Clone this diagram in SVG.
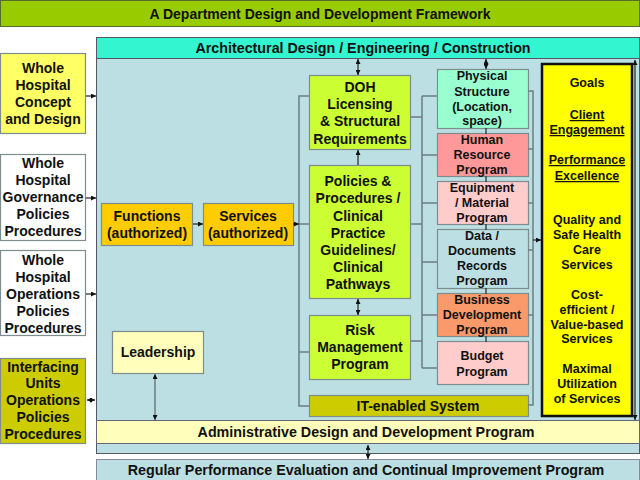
<svg xmlns="http://www.w3.org/2000/svg" width="640" height="480" viewBox="0 0 640 480">
<style>
text{font-family:"Liberation Sans",Arial,sans-serif;font-weight:bold;fill:#111;text-anchor:middle}
.t14{font-size:14px}
.t13{font-size:13px}
.t12{font-size:12.5px}
.bar{font-size:14.3px}
.box{stroke:#7f8c8d;stroke-width:1.2}
.con{fill:none;stroke:#6e7e82;stroke-width:1.5}
.dk{fill:none;stroke:#222;stroke-width:1.2}
.u{text-decoration:underline}
</style>
<defs>
<marker id="ah" viewBox="0 0 6 6" refX="6" refY="3" markerWidth="5" markerHeight="5" markerUnits="userSpaceOnUse" orient="auto-start-reverse"><path d="M0,0 L6,3 L0,6 z" fill="#111"/></marker>
</defs>

<!-- title -->
<g id="title">
<rect x="0.5" y="0.5" width="639" height="26" fill="#99cc00" stroke="#556b2f"/>
<text class="t14" x="320" y="19">A Department Design and Development Framework</text>
</g>

<!-- main panel -->
<g id="panel">
<rect x="96.5" y="37.5" width="543" height="416" fill="#bbdfe2" stroke="#556"/>
</g>
<g id="arch">
<rect x="96.5" y="37.5" width="543" height="21" fill="#33f5d0" stroke="#556"/>
<text class="bar" x="363" y="53">Architectural  Design / Engineering / Construction</text>
</g>
<g id="admin">
<rect x="96.5" y="420.5" width="543" height="23" fill="#ffffbb" stroke="#667"/>
<text class="bar" x="366" y="437">Administrative  Design and Development Program</text>
</g>
<g id="regular">
<rect x="96.5" y="459.5" width="543" height="21" fill="#bbdfe2" stroke="#889"/>
<text class="bar" x="366" y="475">Regular Performance Evaluation and Continual  Improvement Program</text>
</g>

<!-- left boxes -->
<g id="concept">
<rect x="0.5" y="53.5" width="85" height="80" fill="#ffff66" class="box"/>
<text class="t14" x="43" y="73">Whole</text>
<text class="t14" x="43" y="90">Hospital</text>
<text class="t14" x="43" y="107">Concept</text>
<text class="t14" x="43" y="124">and Design</text>
</g>
<g id="governance">
<rect x="0.5" y="154.5" width="85" height="86" fill="#ffffff" class="box"/>
<text class="t14" x="43" y="168">Whole</text>
<text class="t14" x="43" y="185">Hospital</text>
<text class="t14" x="43" y="202">Governance</text>
<text class="t14" x="43" y="219">Policies</text>
<text class="t14" x="43" y="236">Procedures</text>
</g>
<g id="operations">
<rect x="0.5" y="250.5" width="85" height="85" fill="#ffffff" class="box"/>
<text class="t14" x="43" y="265">Whole</text>
<text class="t14" x="43" y="282">Hospital</text>
<text class="t14" x="43" y="299">Operations</text>
<text class="t14" x="43" y="316">Policies</text>
<text class="t14" x="43" y="333">Procedures</text>
</g>
<g id="interfacing">
<rect x="0.5" y="358.5" width="85" height="85" fill="#cccc00" class="box"/>
<text class="t14" x="43" y="372">Interfacing</text>
<text class="t14" x="43" y="388">Units</text>
<text class="t14" x="43" y="405">Operations</text>
<text class="t14" x="43" y="422">Policies</text>
<text class="t14" x="43" y="439">Procedures</text>
</g>

<!-- middle -->
<g id="functions">
<rect x="101.5" y="203.5" width="91" height="42" fill="#ffcc00" class="box"/>
<text class="t14" x="147" y="221">Functions</text>
<text class="t14" x="147" y="238">(authorized)</text>
</g>
<g id="services">
<rect x="203.5" y="203.5" width="90" height="42" fill="#ffcc00" class="box"/>
<text class="t14" x="248" y="221">Services</text>
<text class="t14" x="248" y="238">(authorized)</text>
</g>
<g id="leadership">
<rect x="112.5" y="331.5" width="91" height="42" fill="#ffffbb" class="box"/>
<text class="t14" x="158" y="357">Leadership</text>
</g>
<g id="doh">
<rect x="309.5" y="75.5" width="101" height="74" fill="#ccff33" class="box"/>
<text class="t14" x="360" y="92">DOH</text>
<text class="t14" x="360" y="109">Licensing</text>
<text class="t14" x="360" y="126">&amp; Structural</text>
<text class="t14" x="360" y="144">Requirements</text>
</g>
<g id="policies">
<rect x="309.5" y="165.5" width="101" height="133" fill="#ccff33" class="box"/>
<text class="t14" x="358" y="186">Policies  &amp;</text>
<text class="t14" x="358" y="203">Procedures /</text>
<text class="t14" x="358" y="221">Clinical</text>
<text class="t14" x="358" y="238">Practice</text>
<text class="t14" x="358" y="255">Guidelines/</text>
<text class="t14" x="358" y="272">Clinical</text>
<text class="t14" x="358" y="289">Pathways</text>
</g>
<g id="risk">
<rect x="309.5" y="315.5" width="101" height="64" fill="#ccff33" class="box"/>
<text class="t14" x="360" y="335">Risk</text>
<text class="t14" x="360" y="352">Management</text>
<text class="t14" x="360" y="369">Program</text>
</g>
<g id="it">
<rect x="309.5" y="395.5" width="219" height="21" fill="#cccc00" class="box"/>
<text class="t14" x="418" y="411">IT-enabled System</text>
</g>

<!-- right column -->
<g id="physical">
<rect x="437.5" y="69.5" width="91" height="59" fill="#99ffd0" class="box"/>
<text class="t12" x="482" y="80">Physical</text>
<text class="t12" x="482" y="96">Structure</text>
<text class="t12" x="482" y="111">(Location,</text>
<text class="t12" x="482" y="125">space)</text>
</g>
<g id="hr">
<rect x="437.5" y="133.5" width="91" height="43" fill="#ff9999" class="box"/>
<text class="t12" x="482" y="144">Human</text>
<text class="t12" x="482" y="159">Resource</text>
<text class="t12" x="482" y="174">Program</text>
</g>
<g id="equipment">
<rect x="437.5" y="181.5" width="91" height="43" fill="#ffcccc" class="box"/>
<text class="t12" x="482" y="192">Equipment</text>
<text class="t12" x="482" y="207">/ Material</text>
<text class="t12" x="482" y="222">Program</text>
</g>
<g id="data">
<rect x="437.5" y="229.5" width="91" height="59" fill="#bbdfe2" class="box"/>
<text class="t12" x="482" y="240">Data /</text>
<text class="t12" x="482" y="255">Documents</text>
<text class="t12" x="482" y="270">Records</text>
<text class="t12" x="482" y="285">Program</text>
</g>
<g id="business">
<rect x="437.5" y="293.5" width="91" height="43" fill="#fa9a6a" class="box"/>
<text class="t12" x="482" y="304">Business</text>
<text class="t12" x="482" y="319">Development</text>
<text class="t12" x="482" y="334">Program</text>
</g>
<g id="budget">
<rect x="437.5" y="341.5" width="91" height="43" fill="#ffcccc" class="box"/>
<text class="t12" x="482" y="360">Budget</text>
<text class="t12" x="482" y="376">Program</text>
</g>
<g id="goals">
<rect x="542" y="64" width="90" height="352" fill="#ffff00" stroke="#111" stroke-width="2.5"/>
<text class="t12" x="587" y="87">Goals</text>
<text class="t12 u" x="587" y="119">Client</text>
<text class="t12 u" x="587" y="134">Engagement</text>
<text class="t12 u" x="587" y="164">Performance</text>
<text class="t12 u" x="587" y="180">Excellence</text>
<text class="t12" x="587" y="224">Quality and</text>
<text class="t12" x="587" y="239">Safe Health</text>
<text class="t12" x="587" y="254">Care</text>
<text class="t12" x="587" y="269">Services</text>
<text class="t12" x="587" y="299">Cost-</text>
<text class="t12" x="587" y="314">efficient /</text>
<text class="t12" x="587" y="329">Value-based</text>
<text class="t12" x="587" y="343">Services</text>
<text class="t12" x="587" y="373">Maximal</text>
<text class="t12" x="587" y="388">Utilization</text>
<text class="t12" x="587" y="403">of Services</text>
</g>

<!-- connectors -->
<g id="connectors">
<path class="con" d="M309,96 H299 V406 H309 M299,352 H309 M299,224 H309"/>
<path class="con" d="M411,117 H422 M422,96 V368 M422,96 H437 M422,155 H437 M422,203 H437 M422,262 H437 M422,315 H437 M422,368 H437 M411,224 H422 M411,341 H422"/>
<path class="con" d="M528,91 H533 V405 H528 M528,149 H533 M528,203 H533 M528,250 H533 M528,315 H533"/>
<path class="dk" d="M533,240 H541" marker-end="url(#ah)"/>
<path class="dk" d="M86,96 H96" marker-end="url(#ah)"/>
<path class="dk" d="M86,198 H96" marker-end="url(#ah)"/>
<path class="dk" d="M86,294 H96" marker-end="url(#ah)"/>
<path class="dk" d="M87,400 H95" marker-end="url(#ah)" marker-start="url(#ah)"/>
<path class="dk" d="M193,224 H203" marker-end="url(#ah)"/>
<path class="dk" d="M293,224 H299" marker-end="url(#ah)"/>
<path class="dk" d="M358,59 V75" marker-end="url(#ah)" marker-start="url(#ah)"/>
<path class="dk" d="M486,59 V69" marker-end="url(#ah)" marker-start="url(#ah)"/>
<path class="dk" d="M358,165 V150" marker-end="url(#ah)"/>
<path class="dk" d="M358,299 V315" marker-end="url(#ah)" marker-start="url(#ah)"/>
<path class="con" d="M155,374 V420"/>
<path class="dk" d="M155,374 V420" stroke-opacity="0" marker-end="url(#ah)" marker-start="url(#ah)"/>
<path class="dk" d="M368,445 V459" marker-end="url(#ah)" marker-start="url(#ah)"/>
<path class="dk" d="M486,128 V134 M486,176 V182 M486,224 V230 M486,288 V294 M486,336 V342" stroke-width="2.5"/>
<path class="dk" d="M635,60 V420" stroke-width="1.5" marker-end="url(#ah)" marker-start="url(#ah)"/>
</g>
</svg>
